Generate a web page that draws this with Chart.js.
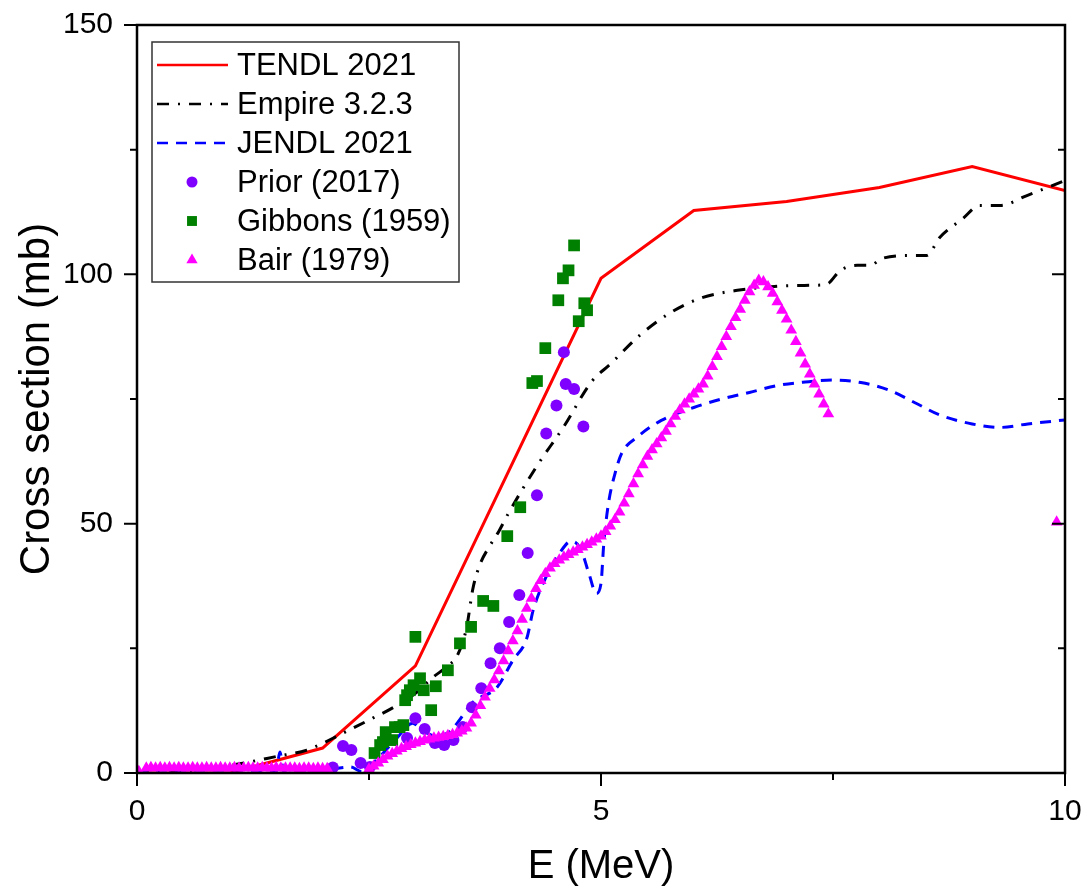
<!DOCTYPE html>
<html>
<head>
<meta charset="utf-8">
<script src="https://cdn.jsdelivr.net/npm/chart.js@4.4.0/dist/chart.umd.min.js"></script>
<style>
  html, body { margin: 0; padding: 0; background: #fff; }
  canvas { display: block; }
</style>
</head>
<body>
<canvas id="myChart" width="1087" height="891"></canvas>
<script>
// TENDL 2021
var tendlE  = [0.1, 1.0, 2.0, 3.0, 5.0, 6.0, 7.0, 8.0, 9.0, 10.0];
var tendlXS = [0.0, 0.0, 5.0, 21.5, 99.2, 112.8, 114.6, 117.4, 121.6, 116.8];

// Empire 3.2.3
var empireE  = [0, 0.5, 1.0, 1.5, 1.83, 2.22, 2.54, 2.75, 3.0, 3.19, 3.35, 3.45, 3.55, 3.62, 3.7, 3.8, 3.9, 4.0, 4.3, 4.6,
                4.9, 5.1, 5.42, 5.74, 6.07, 6.47, 6.9, 7.28, 7.43, 7.58, 7.76, 7.9, 8.03, 8.36, 8.51, 8.65, 8.9, 9.08, 9.3, 9.59, 10.0];
var empireXS = [0, 0.3, 1.5, 3.3, 4.6, 8.0, 11.0, 13.0, 16.0, 19.2, 21.5, 23.5, 29.0, 37.0, 42.0, 45.5, 48.5, 52.0, 61.3, 69.5,
                78.5, 82.0, 87.8, 92.2, 95.2, 96.8, 97.6, 97.8, 98.0, 100.8, 101.8, 101.8, 103.2, 103.8, 103.8, 107.4, 111.2, 113.8, 113.8, 115.8, 118.8];

// JENDL 2021
var jendlE  = [0, 0.5, 1.0, 1.5, 1.54, 1.58, 2.0, 2.3, 2.42, 2.6, 2.8, 2.97, 3.05, 3.2, 3.35, 3.45, 3.62, 3.88, 4.05, 4.2,
               4.27, 4.4, 4.55, 4.68, 4.78, 4.87, 4.95, 5.0, 5.03, 5.08, 5.15, 5.22, 5.4, 5.65, 6.0, 6.3, 6.6, 6.9, 7.2, 7.5,
               7.8, 8.1, 8.4, 8.65, 9.0, 9.3, 9.6, 10.0];
var jendlXS = [0, 0, 0, 0.3, 4.2, 0.3, 0.5, 1.2, 0.3, 3, 7, 10, 9, 7.5, 8, 10, 14.2, 17.2, 22.6, 27,
               32.7, 39, 44, 46.5, 45, 40, 36, 38, 46, 54, 60, 64, 67.5, 70.7, 73.3, 75, 76.3, 77.7, 78.4, 78.8,
               78.3, 76.8, 74.1, 71.8, 70, 69.3, 70, 70.8];

// Prior (2017)
var priorE  = [2.11, 2.22, 2.31, 2.41, 2.51, 2.91, 3.00, 3.10, 3.21, 3.31, 3.41, 3.51, 3.61, 3.71, 3.81, 3.91, 4.01,
               4.12, 4.21, 4.31, 4.41, 4.52, 4.60, 4.62, 4.71, 4.81];
var priorXS = [1.1, 5.4, 4.6, 2.0, 1.2, 7.0, 11.0, 8.8, 6.0, 5.6, 6.6, 9.2, 13.2, 17.0, 22.0, 25.0, 30.3,
               35.7, 44.1, 55.7, 68.1, 73.7, 84.4, 78.0, 77.0, 69.5];

// Gibbons (1959)
var gibbonsE  = [2.56, 2.62, 2.65, 2.68, 2.75, 2.78, 2.83, 2.87, 2.89, 2.91, 2.94, 2.98, 3.00, 3.05, 3.09, 3.17, 3.22,
                 3.35, 3.48, 3.60, 3.73, 3.84, 3.99, 4.13, 4.26, 4.31, 4.40, 4.54, 4.59, 4.65, 4.71, 4.76, 4.82, 4.85];
var gibbonsXS = [4.0, 5.6, 6.2, 8.2, 6.6, 9.2, 9.2, 9.6, 14.6, 15.6, 16.6, 17.6, 27.3, 19.0, 16.6, 12.6, 17.4,
                 20.6, 26.0, 29.3, 34.5, 33.5, 47.5, 53.3, 78.2, 78.6, 85.2, 94.8, 99.2, 100.8, 105.8, 90.6, 94.2, 92.8];

// Bair (1979)
var bairE = [0.02, 0.10, 0.15, 0.20, 0.25, 0.30, 0.35, 0.40, 0.45, 0.50, 0.55, 0.60, 0.65, 0.70, 0.75, 0.80, 0.85, 0.90,
             0.95, 1.00, 1.05, 1.10, 1.15, 1.20, 1.25, 1.30, 1.35, 1.40, 1.45, 1.50, 1.55, 1.60, 1.65, 1.70, 1.75, 1.80,
             1.85, 1.90, 1.95, 2.00, 2.05,
             2.50, 2.55, 2.60, 2.65, 2.70, 2.75, 2.80, 2.85, 2.90, 2.95, 3.00, 3.05, 3.10, 3.15, 3.20, 3.25, 3.30, 3.35,
             3.40, 3.45, 3.50, 3.55, 3.60, 3.65, 3.70, 3.75, 3.80, 3.85, 3.90, 3.95, 4.00, 4.05, 4.10, 4.15, 4.20, 4.25,
             4.30, 4.35, 4.40, 4.45, 4.50, 4.55, 4.60, 4.65, 4.70, 4.75, 4.80, 4.85, 4.90, 4.95, 5.00, 5.05, 5.10, 5.15,
             5.20, 5.25, 5.30, 5.35, 5.40, 5.45, 5.50, 5.55, 5.60, 5.65, 5.70, 5.75, 5.80, 5.85, 5.90, 5.95, 6.00, 6.05,
             6.10, 6.15, 6.20, 6.25, 6.30, 6.35, 6.40, 6.45, 6.50, 6.55, 6.60, 6.65, 6.70, 6.75, 6.80, 6.85, 6.90, 6.95,
             7.00, 7.05, 7.10, 7.15, 7.20, 7.25, 7.30, 7.35, 7.40, 7.45,
             9.91];
var bairXS = [0.3, 1.0, 1.1, 1.0, 1.1, 1.0, 1.1, 1.0, 1.1, 1.0, 1.0, 1.1, 1.0, 1.0, 1.1, 1.0, 1.0, 1.1,
              1.0, 1.0, 1.1, 1.0, 1.0, 1.1, 1.0, 1.0, 1.1, 1.0, 1.0, 1.1, 1.0, 1.0, 1.0, 1.0, 0.9, 1.0,
              1.0, 0.9, 1.0, 0.9, 0.9,
              0.8, 1.4, 2.0, 2.7, 3.4, 3.9, 4.4, 4.9, 5.3, 5.7, 6.0, 6.3, 6.6, 6.8, 7.0, 7.15, 7.3, 7.5,
              7.7, 8.0, 8.4, 9.0, 10.0, 11.6, 13.5, 15.2, 17.0, 18.7, 20.5, 22.5, 24.5, 26.5, 28.5, 30.8, 33.0, 35.0,
              37.0, 38.6, 40.0, 41.1, 42.0, 42.7, 43.3, 43.8, 44.3, 44.8, 45.3, 45.8, 46.3, 46.9, 47.5, 48.4, 49.5, 50.8,
              52.3, 54.1, 56.0, 58.0, 60.0, 61.8, 63.5, 64.8, 66.0, 67.2, 68.5, 70.0, 71.5, 72.8, 74.0, 75.0, 76.0, 77.0,
              78.0, 79.6, 81.5, 83.5, 85.5, 87.5, 89.5, 91.3, 93.0, 94.8, 96.5, 97.8, 98.8, 98.5, 97.5, 96.2, 94.5, 92.8,
              91.0, 88.8, 86.5, 84.2, 82.0, 80.0, 78.0, 76.0, 74.0, 72.0,
              50.3];

var xTicksMajor = [0, 5, 10];
var xTicksMinor = [2.5, 7.5];
var yTicksMajor = [0, 50, 100, 150];
var yTicksMinor = [25, 75, 125];

var FONT = "'Liberation Sans', Arial, sans-serif";

function pts(xs, ys) {
  return xs.map(function (x, i) { return { x: x, y: ys[i] }; });
}

function marker(ctx, style, x, y, r, color) {
  ctx.save();
  ctx.fillStyle = color;
  ctx.beginPath();
  if (style === 'circle') {
    ctx.arc(x, y, r, 0, Math.PI * 2);
  } else if (style === 'rect') {
    var s = Math.SQRT1_2 * r;
    ctx.rect(x - s, y - s, 2 * s, 2 * s);
  } else {
    ctx.moveTo(x, y - r);
    ctx.lineTo(x + r * 0.866, y + r * 0.5);
    ctx.lineTo(x - r * 0.866, y + r * 0.5);
    ctx.closePath();
  }
  ctx.fill();
  ctx.restore();
}

// frame, tick marks and the boxed legend
var frame = {
  id: 'frame',
  afterDraw: function (chart) {
    var ctx = chart.ctx, a = chart.chartArea;
    var sx = chart.scales.x, sy = chart.scales.y;
    ctx.save();
    ctx.strokeStyle = '#000';
    ctx.lineWidth = 2.5;
    ctx.strokeRect(a.left, a.top, a.right - a.left, a.bottom - a.top);

    ctx.lineWidth = 2;
    ctx.beginPath();
    xTicksMajor.concat(xTicksMinor).forEach(function (v) {
      var px = sx.getPixelForValue(v), len = xTicksMajor.indexOf(v) >= 0 ? 13 : 7;
      ctx.moveTo(px, a.bottom);
      ctx.lineTo(px, a.bottom + len);
    });
    yTicksMajor.concat(yTicksMinor).forEach(function (v) {
      var py = sy.getPixelForValue(v), len = yTicksMajor.indexOf(v) >= 0 ? 13 : 7;
      ctx.moveTo(a.left, py);
      ctx.lineTo(a.left - len, py);
      ctx.moveTo(a.right, py);
      ctx.lineTo(a.right - len, py);
    });
    ctx.stroke();

    // legend
    var lx = 152, ly = 42, lw = 307, lh = 240;
    ctx.fillStyle = '#fff';
    ctx.fillRect(lx, ly, lw, lh);
    ctx.strokeStyle = '#333';
    ctx.lineWidth = 1.5;
    ctx.strokeRect(lx, ly, lw, lh);
    ctx.font = '31px ' + FONT;
    ctx.textBaseline = 'middle';
    ctx.textAlign = 'left';
    chart.data.datasets.forEach(function (ds, i) {
      var cy = 65 + i * 39;
      if (ds.showLine) {
        ctx.strokeStyle = ds.borderColor;
        ctx.lineWidth = 2.5;
        ctx.setLineDash(ds.borderDash || []);
        ctx.beginPath();
        ctx.moveTo(157, cy);
        ctx.lineTo(228, cy);
        ctx.stroke();
        ctx.setLineDash([]);
      } else {
        var r = ds.pointStyle === 'rect' ? 7 : (ds.pointStyle === 'circle' ? 5.5 : 6.5);
        marker(ctx, ds.pointStyle, 192, cy, r, ds.backgroundColor);
      }
      ctx.fillStyle = '#000';
      ctx.fillText(ds.label, 237, cy + 1);
    });
    ctx.restore();
  }
};

var ctx = document.getElementById('myChart').getContext('2d');
var chart = new Chart(ctx, {
  type: 'scatter',
  data: {
    datasets: [
      {
        label: 'TENDL 2021',
        data: pts(tendlE, tendlXS),
        showLine: true,
        borderColor: '#ff0000',
        borderWidth: 3,
        pointRadius: 0,
        order: 6
      },
      {
        label: 'Empire 3.2.3',
        data: pts(empireE, empireXS),
        showLine: true,
        borderColor: '#000000',
        borderWidth: 3,
        borderDash: [12, 9, 2, 9],
        cubicInterpolationMode: 'monotone',
        pointRadius: 0,
        order: 5
      },
      {
        label: 'JENDL 2021',
        data: pts(jendlE, jendlXS),
        showLine: true,
        borderColor: '#0000ff',
        borderWidth: 3,
        borderDash: [11, 8],
        cubicInterpolationMode: 'monotone',
        pointRadius: 0,
        order: 4
      },
      {
        label: 'Prior (2017)',
        data: pts(priorE, priorXS),
        pointStyle: 'circle',
        pointRadius: 6,
        backgroundColor: '#8000ff',
        borderWidth: 0,
        order: 3
      },
      {
        label: 'Gibbons (1959)',
        data: pts(gibbonsE, gibbonsXS),
        pointStyle: 'rect',
        pointRadius: 8.3,
        backgroundColor: '#008000',
        borderWidth: 0,
        order: 2
      },
      {
        label: 'Bair (1979)',
        data: pts(bairE, bairXS),
        pointStyle: 'triangle',
        pointRadius: 6.8,
        backgroundColor: '#ff00ff',
        borderWidth: 0,
        order: 1
      }
    ]
  },
  options: {
    responsive: false,
    animation: false,
    layout: { padding: { top: 25, right: 22, left: 0, bottom: 0 } },
    plugins: {
      legend: { display: false },
      tooltip: { enabled: false }
    },
    scales: {
      x: {
        type: 'linear',
        min: 0,
        max: 10,
        grid: { display: false, drawTicks: false },
        border: { display: false },
        ticks: { stepSize: 5, color: '#000', font: { family: FONT, size: 30 }, padding: 21, maxRotation: 0 },
        title: { display: true, text: 'E (MeV)', color: '#000', font: { family: FONT, size: 40 }, padding: { top: 0, bottom: 0 } },
        afterFit: function (s) { s.height = 118; s.paddingLeft = 0; s.paddingRight = 0; }
      },
      y: {
        type: 'linear',
        min: 0,
        max: 150,
        grid: { display: false, drawTicks: false },
        border: { display: false },
        ticks: { stepSize: 50, color: '#000', font: { family: FONT, size: 30 }, padding: 24 },
        title: { display: true, text: 'Cross section (mb)', color: '#000', font: { family: FONT, size: 42 }, padding: { top: 12, bottom: 0 } },
        afterFit: function (s) { s.width = 137; s.paddingTop = 0; s.paddingBottom = 0; }
      }
    }
  },
  plugins: [frame]
});
</script>
</body>
</html>
